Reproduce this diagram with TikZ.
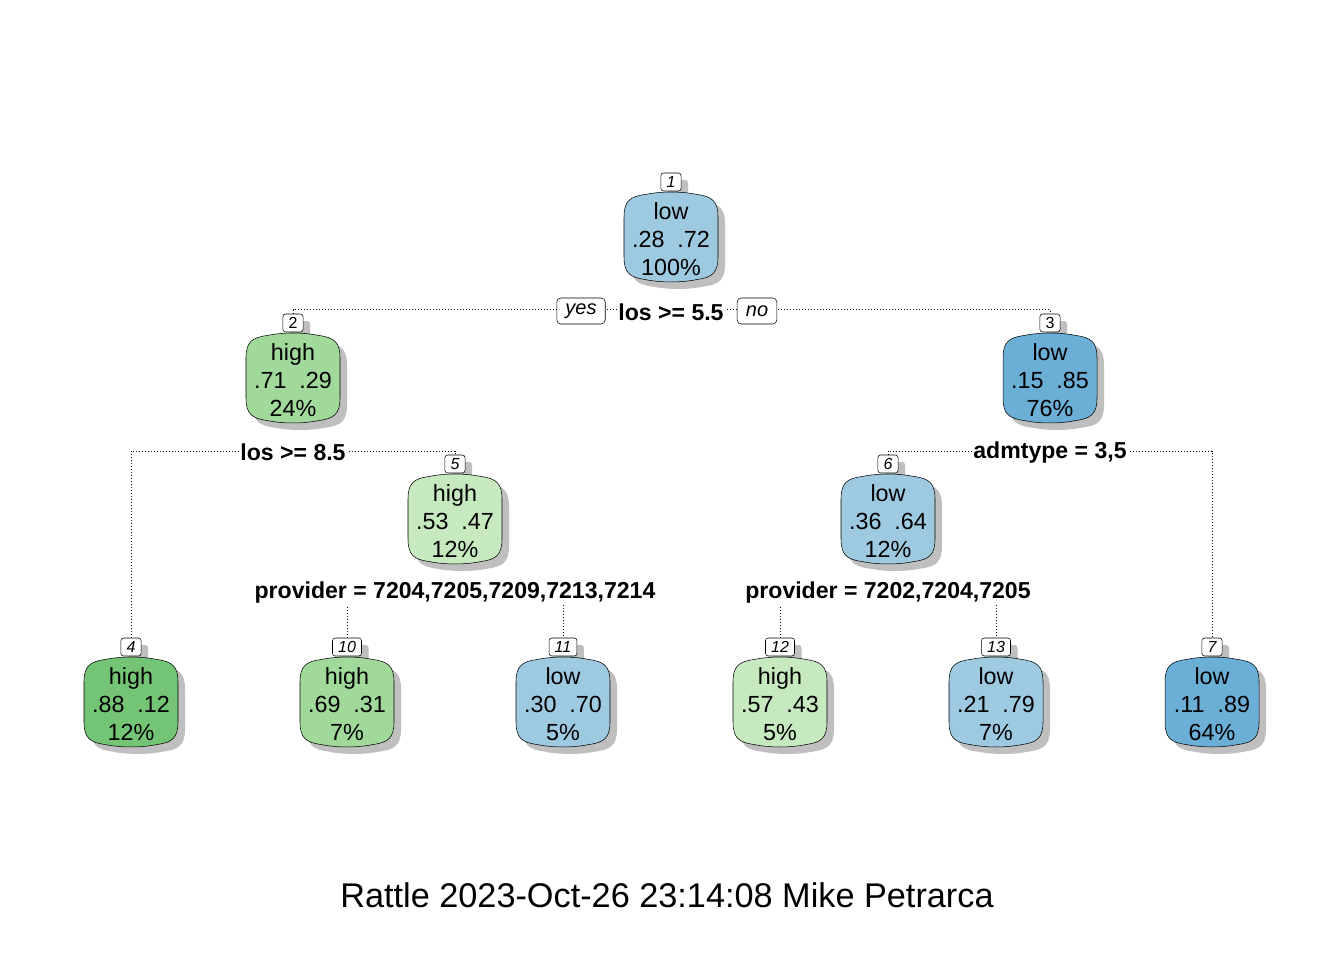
\documentclass[tikz,border=0pt]{standalone}
\usepackage{fontspec}
\setmainfont{Liberation Sans}
\usetikzlibrary{backgrounds,shadows}
\definecolor{blueA}{HTML}{9ECAE1}
\definecolor{blueB}{HTML}{6BAED6}
\definecolor{greenA}{HTML}{74C476}
\definecolor{greenB}{HTML}{A1D99B}
\definecolor{greenC}{HTML}{C7E9C0}
\tikzset{
	barrel/.pic={\path[pic actions] (-47,-20) .. controls (-47,-36) and (-41,-40.5) .. (-26,-42.5) .. controls (-10,-45.8) and (10,-45.8) .. (26,-42.5) .. controls (41,-40.5) and (47,-36) .. (47,-20) -- (47,20) .. controls (47,36) and (41,40.5) .. (26,42.5) .. controls (10,45.8) and (-10,45.8) .. (-26,42.5) .. controls (-41,40.5) and (-47,36) .. (-47,20) -- cycle;},
	leaf/.style={align=center,inner sep=0pt,font=\fontsize{17.5}{21}\selectfont},
	numbox/.style={draw,fill=white,rounded corners=2pt,inner sep=0pt,inner xsep=4.2pt,minimum height=13.5pt,font=\fontsize{12}{12}\selectfont\itshape,drop shadow={shadow xshift=5.25pt,shadow yshift=-5.25pt,fill=black!25,opacity=1}},
	split/.style={fill=white,inner sep=1pt,font=\fontsize{17.3}{20}\selectfont\bfseries},
	tag/.style={draw,fill=white,rounded corners=3pt,minimum height=19.5pt,inner xsep=6.5pt,font=\fontsize{15}{15}\selectfont\itshape},
	conn/.style={line width=0.75pt,dash pattern=on 0.75pt off 1.5pt}
}
\begin{document}
\begin{tikzpicture}[x=0.75pt,y=-0.75pt]
	\useasboundingbox (0,0) rectangle (1344,960);
	% tree nodes: number, x, y, colour, text, number label
	\foreach \n/\x/\y/\c/\t/\m in {1/671/237/blueA/{low\\.28~~.72\\100\%}/{1},
		2/293/378/greenB/{high\\.71~~.29\\24\%}/{\upshape 2},
		3/1050/378/blueB/{low\\.15~~.85\\76\%}/{\upshape 3},
		5/455/519/greenC/{high\\.53~~.47\\12\%}/{5},
		6/888/519/blueA/{low\\.36~~.64\\12\%}/{6},
		4/131/702/greenA/{high\\.88~~.12\\12\%}/{4},
		10/347/702/greenB/{high\\.69~~.31\\7\%}/{10},
		11/563/702/blueA/{low\\.30~~.70\\5\%}/{11},
		12/780/702/greenC/{high\\.57~~.43\\5\%}/{12},
		13/996/702/blueA/{low\\.21~~.79\\7\%}/{13},
		7/1212/702/blueB/{low\\.11~~.89\\64\%}/{7}}{
		\pic[fill=black!25,shift={(7,7)}] at (\x,\y) {barrel};
		\node[numbox] (b\n) at (\x,\y-55) {\m};
		\pic[draw,fill=\c] at (\x,\y) {barrel};
		\node[leaf] (n\n) at (\x,\y+2) {\t};
	}
	% split labels
	\node[split] (s1) at (671,312) {los >= 5.5};
	\node[tag] (yes) at (581,311) {yes};
	\node[tag] (no) at (757,311) {no};
	\node[split] (s2) at (293,452) {los >= 8.5};
	\node[split] (s3) at (1050,453) {admtype = 3,5};
	\node[split] (s5) at (455,593) {provider = 7204,7205,7209,7213,7214};
	\node[split] (s6) at (888,593) {provider = 7202,7204,7205};
	\begin{scope}[on background layer]
		\draw[conn] (b2.north) -- ++(0,-4) -| (b3.north);
		\draw[conn] (b4.north) -- (b4.north |- 0,451) -| (b5.north);
		\draw[conn] (b6.north) -- (b6.north |- 0,451) -| (b7.north);
		\draw[conn] (b10.north) -- (b10.north |- s5) -| (b11.north);
		\draw[conn] (b12.north) -- (b12.north |- s6) -| (b13.north);
	\end{scope}
	\node[font=\fontsize{25.7}{30}\selectfont] (title) at (667,895) {Rattle 2023-Oct-26 23:14:08 Mike Petrarca};
\end{tikzpicture}
\end{document}
